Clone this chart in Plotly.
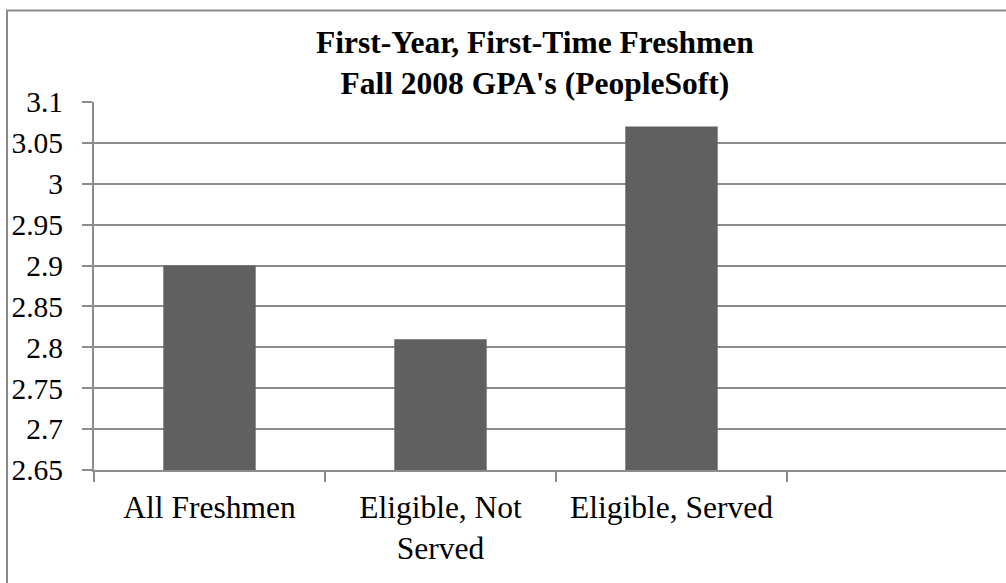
import plotly.graph_objects as go

categories = ["All Freshmen", "Eligible, Not<br>Served", "Eligible, Served"]
gpa = [2.90, 2.81, 3.07]
y_ticks = [2.65, 2.70, 2.75, 2.80, 2.85, 2.90, 2.95, 3.00, 3.05, 3.10]
y_tick_labels = ["2.65", "2.7", "2.75", "2.8", "2.85", "2.9", "2.95", "3", "3.05", "3.1"]
title_text = "First-Year, First-Time Freshmen<br>Fall 2008 GPA's (PeopleSoft)"

W, H = 1006, 583
L, T, B, R = 94, 102, 113, 0
pw = W - L - R
ph = H - T - B
cat_px = 231

GRID = "#8c8c8c"
FONT = "Liberation Serif"

fig = go.Figure()
fig.add_trace(go.Bar(x=categories, y=gpa, marker=dict(color="#606060", line=dict(width=0)),
                     hoverinfo="skip"))

def px_x(p):
    return (p - L) / pw

def px_y(p):
    return (H - B - p) / ph

annotations = [dict(text="<b>%s</b>" % title_text, xref="paper", yref="paper",
                    x=px_x(535), y=px_y(63), xanchor="center", yanchor="middle",
                    showarrow=False, font=dict(family=FONT, size=31.5, color="black"))]

shapes = [
    dict(type="line", xref="paper", yref="paper", x0=px_x(7), x1=px_x(7), y0=px_y(10), y1=px_y(700),
         line=dict(color=GRID, width=2)),
    dict(type="line", xref="paper", yref="paper", x0=px_x(6), x1=px_x(1100), y0=px_y(10.5), y1=px_y(10.5),
         line=dict(color=GRID, width=2)),
]

fig.update_layout(
    width=W, height=H,
    margin=dict(l=L, r=R, t=T, b=B),
    paper_bgcolor="white", plot_bgcolor="white",
    bargap=0.6,
    showlegend=False,
    font=dict(family=FONT, size=31, color="black"),
    annotations=annotations,
    shapes=shapes,
    xaxis=dict(
        type="category",
        range=[-0.5, -0.5 + pw / cat_px],
        tickson="boundaries",
        ticks="outside", ticklen=10, tickwidth=2, tickcolor=GRID,
        ticklabelstandoff=8,
        showline=True, linecolor=GRID, linewidth=2,
        showgrid=False, zeroline=False,
        tickfont=dict(family=FONT, size=31.5, color="black"),
    ),
    yaxis=dict(
        range=[2.65, 3.1],
        tickvals=y_ticks, ticktext=y_tick_labels,
        ticks="outside", ticklen=10, tickwidth=2, tickcolor=GRID,
        ticklabelstandoff=13,
        showline=True, linecolor=GRID, linewidth=2,
        showgrid=True, gridcolor=GRID, gridwidth=2,
        zeroline=False,
        tickfont=dict(family=FONT, size=29.5, color="black"),
    ),
)

fig.write_html("out.html")
